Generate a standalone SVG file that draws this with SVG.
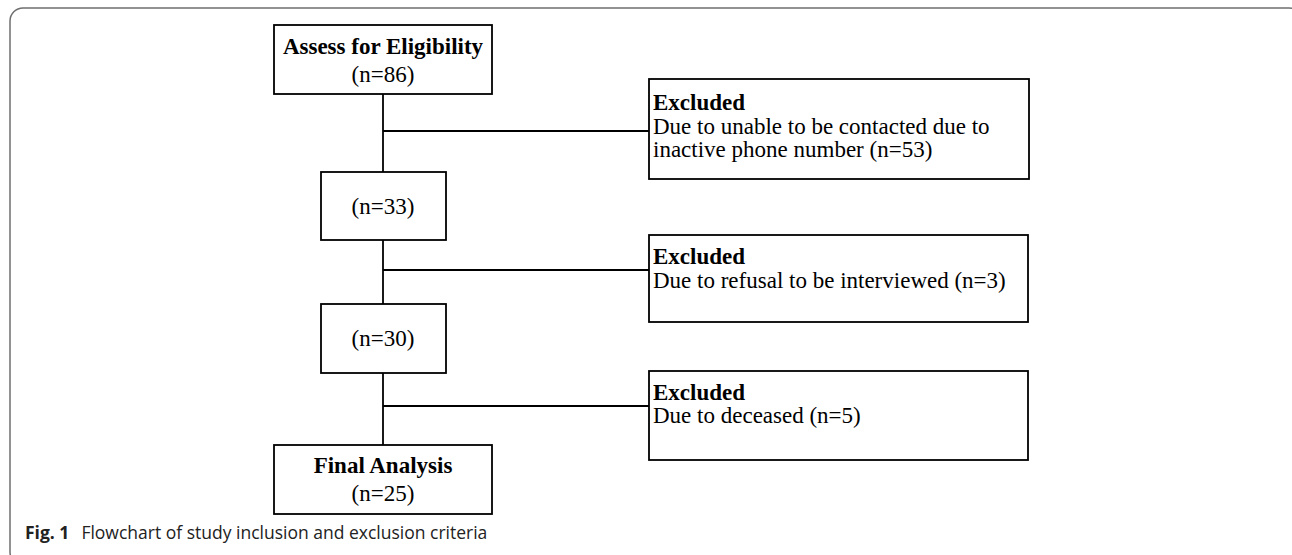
<svg xmlns="http://www.w3.org/2000/svg" width="1292" height="555" viewBox="0 0 1292 555">
<style>
.frame{fill:none;stroke:#6f6f6f;stroke-width:1.5}
.box{fill:#fff;stroke:#000;stroke-width:1.8}
.conn{fill:none;stroke:#000;stroke-width:1.8}
.t{font-family:"Liberation Serif","Times New Roman",serif;font-size:23px;fill:#000}
.b{font-weight:bold}
.mid{text-anchor:middle}
.cap{font-family:"Open Sans","Noto Sans",sans-serif;font-size:17.5px;fill:#222}
</style>
<rect class="frame" x="10" y="8" width="1292" height="557" rx="13" ry="13"/>
<g id="connectors">
<line class="conn" x1="383" y1="94" x2="383" y2="172"/>
<line class="conn" x1="383" y1="240" x2="383" y2="304"/>
<line class="conn" x1="383" y1="373" x2="383" y2="445"/>
<line class="conn" x1="383" y1="131" x2="649" y2="131"/>
<line class="conn" x1="383" y1="270" x2="649" y2="270"/>
<line class="conn" x1="383" y1="406" x2="649" y2="406"/>
</g>
<g id="assess">
<rect class="box" x="274" y="25" width="218" height="69"/>
<text class="t b mid" x="383" y="54">Assess for Eligibility</text>
<text class="t mid" x="383" y="82">(n=86)</text>
</g>
<g id="n33">
<rect class="box" x="321" y="172" width="125" height="68"/>
<text class="t mid" x="383" y="214">(n=33)</text>
</g>
<g id="n30">
<rect class="box" x="321" y="304" width="125" height="69"/>
<text class="t mid" x="383" y="346">(n=30)</text>
</g>
<g id="final">
<rect class="box" x="274" y="445" width="218" height="69"/>
<text class="t b mid" x="383" y="473">Final Analysis</text>
<text class="t mid" x="383" y="501">(n=25)</text>
</g>
<g id="excluded1">
<rect class="box" x="649" y="79" width="380" height="100"/>
<text class="t b" x="653" y="110">Excluded</text>
<text class="t" x="653" y="134">Due to unable to be contacted due to</text>
<text class="t" x="653" y="157">inactive phone number (n=53)</text>
</g>
<g id="excluded2">
<rect class="box" x="649" y="235" width="379" height="87"/>
<text class="t b" x="653" y="264">Excluded</text>
<text class="t" x="653" y="288">Due to refusal to be interviewed (n=3)</text>
</g>
<g id="excluded3">
<rect class="box" x="649" y="371" width="379" height="89"/>
<text class="t b" x="653" y="400">Excluded</text>
<text class="t" x="653" y="423">Due to deceased (n=5)</text>
</g>
<text class="cap" x="25" y="539"><tspan font-weight="bold">Fig. 1</tspan><tspan dx="12">Flowchart of study inclusion and exclusion criteria</tspan></text>
</svg>
